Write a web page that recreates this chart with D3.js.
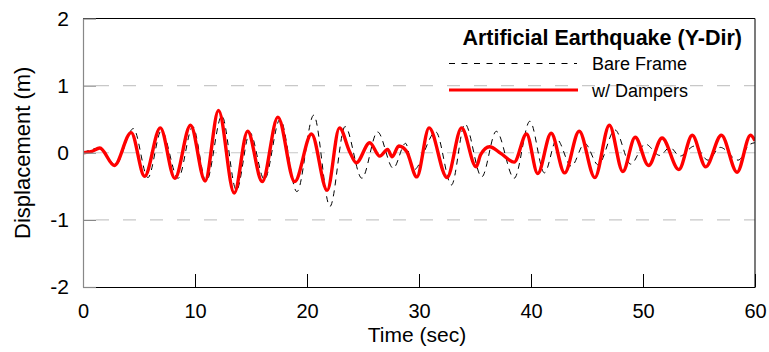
<!DOCTYPE html>
<html>
<head>
<meta charset="utf-8">
<script src="https://cdn.jsdelivr.net/npm/d3@7/dist/d3.min.js"></script>
<style>
  html, body { margin: 0; padding: 0; background: #fff; }
  svg { display: block; font-family: "Liberation Sans", Arial, sans-serif; }
</style>
</head>
<body>
<svg id="chart" width="769" height="352"></svg>
<script>
// Displacement response under the artificial earthquake (Y direction)
const timeDamped = [0, 0.8, 1.5, 2.8, 4.3, 5.5, 6.9, 8.2, 9.6, 10.9, 12.1, 13.5, 14.7, 16.0, 17.4, 18.9,
  20.4, 21.8, 22.9, 23.8, 24.4, 25.6, 26.5, 27.2, 27.6, 28.2, 28.9, 29.8, 30.9, 32.5, 33.8, 35.1,
  35.5, 36.3, 37.3, 38.5, 39.6, 40.6, 41.8, 43.0, 44.3, 45.7, 47.0, 48.2, 49.3, 50.5, 51.7, 53.2,
  54.4, 55.6, 57.0, 58.4, 59.6, 60];
const dispDamped = [0, 0.02, 0.07, -0.19, 0.30, -0.35, 0.37, -0.38, 0.41, -0.42, 0.63, -0.60, 0.32, -0.43, 0.53, -0.43,
  0.28, -0.56, 0.37, 0.02, -0.15, 0.15, -0.05, 0.05, -0.06, 0.10, 0.02, -0.36, 0.37, -0.37, 0.37, -0.21,
  -0.03, 0.09, -0.01, -0.14, 0.28, -0.31, 0.29, -0.30, 0.32, -0.37, 0.41, -0.28, 0.23, -0.19, 0.22, -0.25,
  0.26, -0.21, 0.26, -0.29, 0.26, 0.18];

const timeBare = [0, 1.5, 2.9, 4.5, 5.8, 7.0, 8.5, 9.8, 11.0, 12.4, 13.7, 14.9, 16.2, 17.6, 19.1, 20.6,
  22.05, 23.4, 24.9, 26.3, 27.7, 28.8, 29.5, 31.5, 32.9, 34.1, 35.6, 36.9, 38.5, 39.9, 41.2, 42.3,
  43.6, 44.8, 46.0, 47.5, 48.9, 50.2, 51.5, 52.4, 53.3, 54.6, 55.8, 56.9, 58.5, 59.5, 60];
const dispBare = [0, 0.07, -0.18, 0.36, -0.37, 0.33, -0.38, 0.39, -0.43, 0.55, -0.56, 0.30, -0.40, 0.50, -0.58, 0.56,
  -0.80, 0.39, -0.38, 0.31, -0.23, 0.14, -0.26, 0.31, -0.48, 0.43, -0.36, 0.32, -0.38, 0.47, -0.30, 0.20,
  -0.20, 0.14, -0.18, 0.34, -0.17, 0.13, -0.04, 0.08, -0.05, 0.10, -0.11, 0.08, -0.11, 0.12, 0.15];

const xTicks = [0, 10, 20, 30, 40, 50, 60];
const yTicks = [-2, -1, 0, 1, 2];
const gridValues = [-1, 0, 1];

const chartTitle = "Artificial Earthquake (Y-Dir)";
const seriesNames = ["Bare Frame", "w/ Dampers"];

const W = 769, H = 352;
const margin = { left: 83, top: 18.5, right: 14, bottom: 65 };
const iw = W - margin.left - margin.right;
const ih = H - margin.top - margin.bottom;

const svg = d3.select("#chart");
const g = svg.append("g").attr("transform", `translate(${margin.left},${margin.top})`);

const x = d3.scaleLinear().domain([0, 60]).range([0, iw]);
const y = d3.scaleLinear().domain([-2, 2]).range([ih, 0]);

// plain integer labels with an ASCII hyphen for negatives
const fmt = d => String(d);

// dashed horizontal gridlines
g.selectAll("line.grid").data(gridValues).enter().append("line")
  .attr("class", "grid")
  .attr("x1", 0).attr("x2", iw)
  .attr("y1", d => y(d)).attr("y2", d => y(d))
  .attr("stroke", "#c8c8c8").attr("stroke-width", 1.2)
  .attr("stroke-dasharray", "13,14").attr("stroke-dashoffset", -13);

// clip for the series
svg.append("defs").append("clipPath").attr("id", "plotClip")
  .append("rect").attr("x", 0).attr("y", 0).attr("width", iw).attr("height", ih);

const line = d3.line()
  .x(d => x(d[0]))
  .y(d => y(d[1]))
  .curve(d3.curveMonotoneX);

const plot = g.append("g").attr("clip-path", "url(#plotClip)");

plot.append("path")
  .datum(timeBare.map((t, i) => [t, dispBare[i]]))
  .attr("d", line)
  .attr("fill", "none")
  .attr("stroke", "#000")
  .attr("stroke-width", 1)
  .attr("stroke-dasharray", "6,5");

plot.append("path")
  .datum(timeDamped.map((t, i) => [t, dispDamped[i]]))
  .attr("d", line)
  .attr("fill", "none")
  .attr("stroke", "#ff0000")
  .attr("stroke-width", 3.4)
  .attr("stroke-linejoin", "round");

// frame
g.append("line").attr("x1", 0).attr("x2", iw).attr("y1", 0).attr("y2", 0)
  .attr("stroke", "#000").attr("stroke-width", 1.2);
g.append("line").attr("x1", iw).attr("x2", iw).attr("y1", 0).attr("y2", ih)
  .attr("stroke", "#222").attr("stroke-width", 1.2);

// axes
const xAxis = d3.axisBottom(x).tickValues(xTicks).tickFormat(fmt)
  .tickSizeInner(-13).tickSizeOuter(0).tickPadding(17);
const gx = g.append("g").attr("transform", `translate(0,${ih})`).call(xAxis);
gx.select(".domain").attr("stroke", "#000").attr("stroke-width", 1.2);
gx.selectAll(".tick line").attr("stroke", "#000").attr("stroke-width", 1);
gx.selectAll(".tick text").attr("font-size", 20).attr("fill", "#000")
  .attr("font-family", "Liberation Sans, Arial, sans-serif");

const yAxis = d3.axisLeft(y).tickValues(yTicks).tickFormat(fmt)
  .tickSizeInner(-13).tickSizeOuter(0).tickPadding(14);
const gy = g.append("g").call(yAxis);
gy.select(".domain").attr("stroke", "#888").attr("stroke-width", 1.2);
gy.selectAll(".tick line").attr("stroke", "#888").attr("stroke-width", 1.2);
gy.selectAll(".tick text").attr("font-size", 21).attr("fill", "#000")
  .attr("font-family", "Liberation Sans, Arial, sans-serif");

// axis titles
svg.append("text")
  .attr("x", margin.left + x(30) - 2).attr("y", 342)
  .attr("text-anchor", "middle").attr("font-size", 21).attr("fill", "#000")
  .text("Time (sec)");

svg.append("text")
  .attr("transform", `translate(30,${margin.top + y(0)}) rotate(-90)`)
  .attr("text-anchor", "middle").attr("font-size", 22).attr("fill", "#000")
  .text("Displacement (m)");

// legend
svg.append("text")
  .attr("x", 742).attr("y", 45)
  .attr("text-anchor", "end").attr("font-size", 21.5).attr("font-weight", "bold").attr("fill", "#000")
  .text(chartTitle);

const legend = svg.append("g");
legend.append("line").attr("x1", 449).attr("x2", 577).attr("y1", 63.5).attr("y2", 63.5)
  .attr("stroke", "#000").attr("stroke-width", 1).attr("stroke-dasharray", "6,6.5");
legend.append("line").attr("x1", 449).attr("x2", 578).attr("y1", 90).attr("y2", 90)
  .attr("stroke", "#ff0000").attr("stroke-width", 3);
legend.append("text").attr("x", 592).attr("y", 70).attr("font-size", 18).attr("fill", "#000")
  .text(seriesNames[0]);
legend.append("text").attr("x", 592).attr("y", 97).attr("font-size", 18).attr("fill", "#000")
  .text(seriesNames[1]);
</script>
</body>
</html>
